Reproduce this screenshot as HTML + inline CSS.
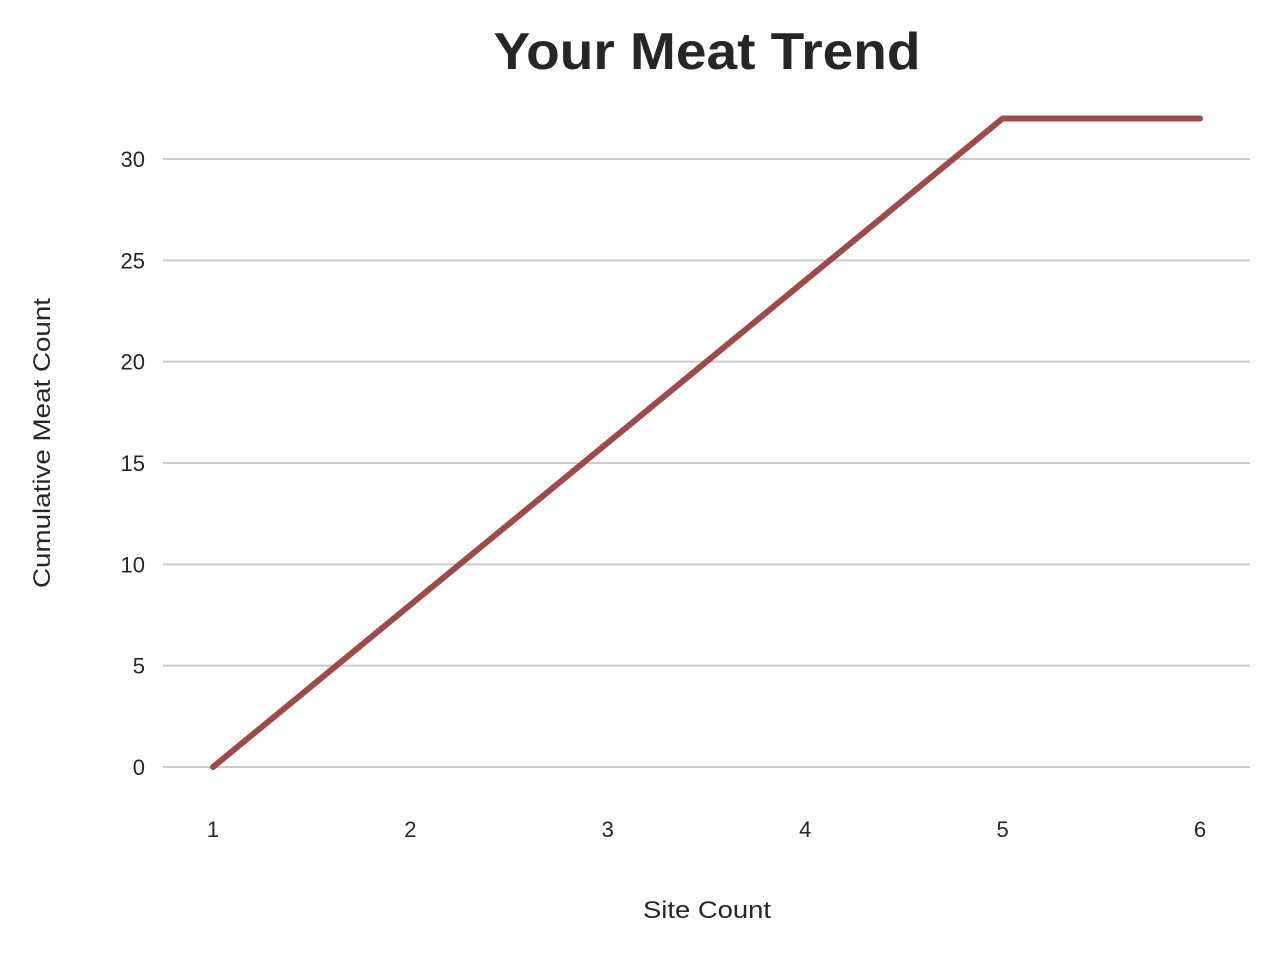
<!DOCTYPE html>
<html><head><meta charset="utf-8"><style>
html,body{margin:0;padding:0;background:#fff;}
svg{display:block;font-family:"Liberation Sans",Arial,sans-serif;}
</style></head><body>
<svg id="chart" width="1280" height="960">
<text x="707" y="69" text-anchor="middle" font-size="52" font-weight="bold" fill="#262626" textLength="427" lengthAdjust="spacingAndGlyphs">Your Meat Trend</text>
<g id="grid"></g>
<g id="yticks"></g>
<g id="xticks"></g>
<path id="line" fill="none" stroke="#9c4a4a" stroke-width="6" stroke-linecap="round" stroke-linejoin="round"/>
<text x="707" y="918" text-anchor="middle" font-size="24" fill="#262626" textLength="128" lengthAdjust="spacingAndGlyphs">Site Count</text>
<text transform="translate(50,443) rotate(-90)" text-anchor="middle" font-size="24" fill="#262626" textLength="290" lengthAdjust="spacingAndGlyphs">Cumulative Meat Count</text>
</svg>
<script>
const categories = [1, 2, 3, 4, 5, 6];
const cumulativeMeat = [0, 8, 16, 24, 32, 32];
const yTickValues = [0, 5, 10, 15, 20, 25, 30];
const xScale = v => 213 + (v - 1) * (1200 - 213) / 5;
const yScale = v => 767 - v * (767 - 159) / 30;
const NS = "http://www.w3.org/2000/svg";
const grid = document.getElementById('grid');
const yt = document.getElementById('yticks');
const xt = document.getElementById('xticks');
yTickValues.forEach(v => {
  const l = document.createElementNS(NS, 'line');
  l.setAttribute('x1', 163); l.setAttribute('x2', 1250);
  l.setAttribute('y1', yScale(v)); l.setAttribute('y2', yScale(v));
  l.setAttribute('stroke', '#cccccc'); l.setAttribute('stroke-width', 2);
  
  
  grid.appendChild(l);
  const t = document.createElementNS(NS, 'text');
  t.setAttribute('x', 145); t.setAttribute('y', yScale(v) + 8);
  t.setAttribute('text-anchor', 'end'); t.setAttribute('font-size', 22); t.setAttribute('fill', '#262626');
  t.textContent = v;
  
  
  yt.appendChild(t);
});
categories.forEach(c => {
  const t = document.createElementNS(NS, 'text');
  t.setAttribute('x', xScale(c)); t.setAttribute('y', 837);
  t.setAttribute('text-anchor', 'middle'); t.setAttribute('font-size', 22); t.setAttribute('fill', '#262626');
  t.textContent = c;
  
  
  xt.appendChild(t);
});
document.getElementById('line').setAttribute('d',
  categories.map((c, i) => (i ? 'L' : 'M') + xScale(c) + ',' + yScale(cumulativeMeat[i])).join(' '));
</script>
</body></html>
